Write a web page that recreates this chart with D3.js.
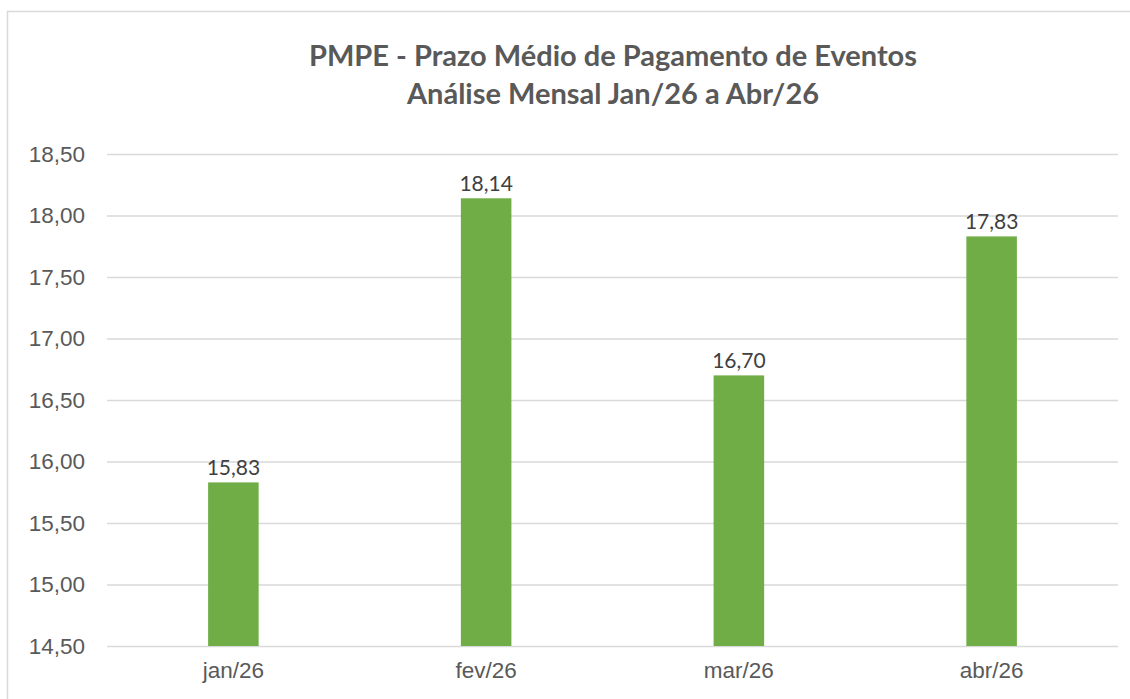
<!DOCTYPE html>
<html>
<head>
<meta charset="utf-8">
<script src="https://cdn.jsdelivr.net/npm/d3@7"></script>
<style>
  body { margin: 0; background: #fff; }
  svg { display: block; }
</style>
</head>
<body>
<script>
var months = ["jan/26", "fev/26", "mar/26", "abr/26"];
var pmpe = [15.83, 18.14, 16.70, 17.83];
var yTicks = [14.5, 15, 15.5, 16, 16.5, 17, 17.5, 18, 18.5];
var titleLines = ["PMPE - Prazo Médio de Pagamento de Eventos", "Análise Mensal Jan/26 a Abr/26"];

var W = 1130, H = 699;
var margin = { top: 154, right: 12, bottom: 53, left: 107 };
var width = W - margin.left - margin.right,
    height = H - margin.top - margin.bottom;

var fmt = function(v) { return d3.format(".2f")(v).replace(".", ","); };

var svg = d3.select("body").append("svg")
    .attr("width", W)
    .attr("height", H);

// chart frame (cropped on right / bottom)
svg.append("rect")
    .attr("x", 7.5).attr("y", 11.5)
    .attr("width", W + 20).attr("height", H + 20)
    .attr("fill", "#fff")
    .attr("stroke", "#d9d9d9")
    .attr("stroke-width", 1.5);

var title = svg.append("text")
    .attr("text-anchor", "middle")
    .style("font-family", "Lato, 'Open Sans', sans-serif")
    .style("font-weight", "bold")
    .style("font-size", "29px")
    .attr("fill", "#595959");
title.selectAll("tspan")
    .data(titleLines)
    .enter().append("tspan")
    .attr("x", 613)
    .attr("y", function(d, i) { return 66 + i * 38; })
    .text(function(d) { return d; });

var g = svg.append("g")
    .attr("transform", "translate(" + margin.left + "," + margin.top + ")");

var x = d3.scaleBand()
    .domain(months)
    .range([0, width])
    .paddingInner(0.8)
    .paddingOuter(0.4);

var y = d3.scaleLinear()
    .domain([14.5, 18.5])
    .range([height, 0]);

// gridlines
var yAxis = d3.axisLeft(y)
    .tickValues(yTicks)
    .tickSize(-width)
    .tickPadding(22)
    .tickFormat(fmt);

g.append("g")
    .attr("class", "y axis")
    .call(yAxis)
    .call(function(a) {
        a.select(".domain").remove();
        a.selectAll(".tick line").attr("stroke", "#d9d9d9").attr("stroke-width", 1.5);
        a.selectAll(".tick text")
            .attr("fill", "#595959")
            .style("font-family", "'Liberation Sans', Arial, sans-serif")
            .style("font-size", "22.5px");
    });

g.selectAll(".bar")
    .data(pmpe)
    .enter().append("rect")
    .attr("class", "bar")
    .attr("x", function(d, i) { return x(months[i]); })
    .attr("width", x.bandwidth())
    .attr("y", function(d) { return y(d); })
    .attr("height", function(d) { return height - y(d); })
    .attr("fill", "#70ad47");

g.selectAll(".label")
    .data(pmpe)
    .enter().append("text")
    .attr("class", "label")
    .attr("text-anchor", "middle")
    .attr("x", function(d, i) { return x(months[i]) + x.bandwidth() / 2; })
    .attr("y", function(d) { return y(d) - 7; })
    .attr("fill", "#404040")
    .style("font-family", "Lato, 'Open Sans', sans-serif")
    .style("font-size", "21px")
    .text(fmt);

var xAxis = d3.axisBottom(x).tickSize(0).tickPadding(16);

g.append("g")
    .attr("class", "x axis")
    .attr("transform", "translate(0," + height + ")")
    .call(xAxis)
    .call(function(a) {
        a.select(".domain").remove();
        a.selectAll(".tick text")
            .attr("fill", "#595959")
            .style("font-family", "'Liberation Sans', Arial, sans-serif")
            .style("font-size", "22.5px");
    });
</script>
</body>
</html>
